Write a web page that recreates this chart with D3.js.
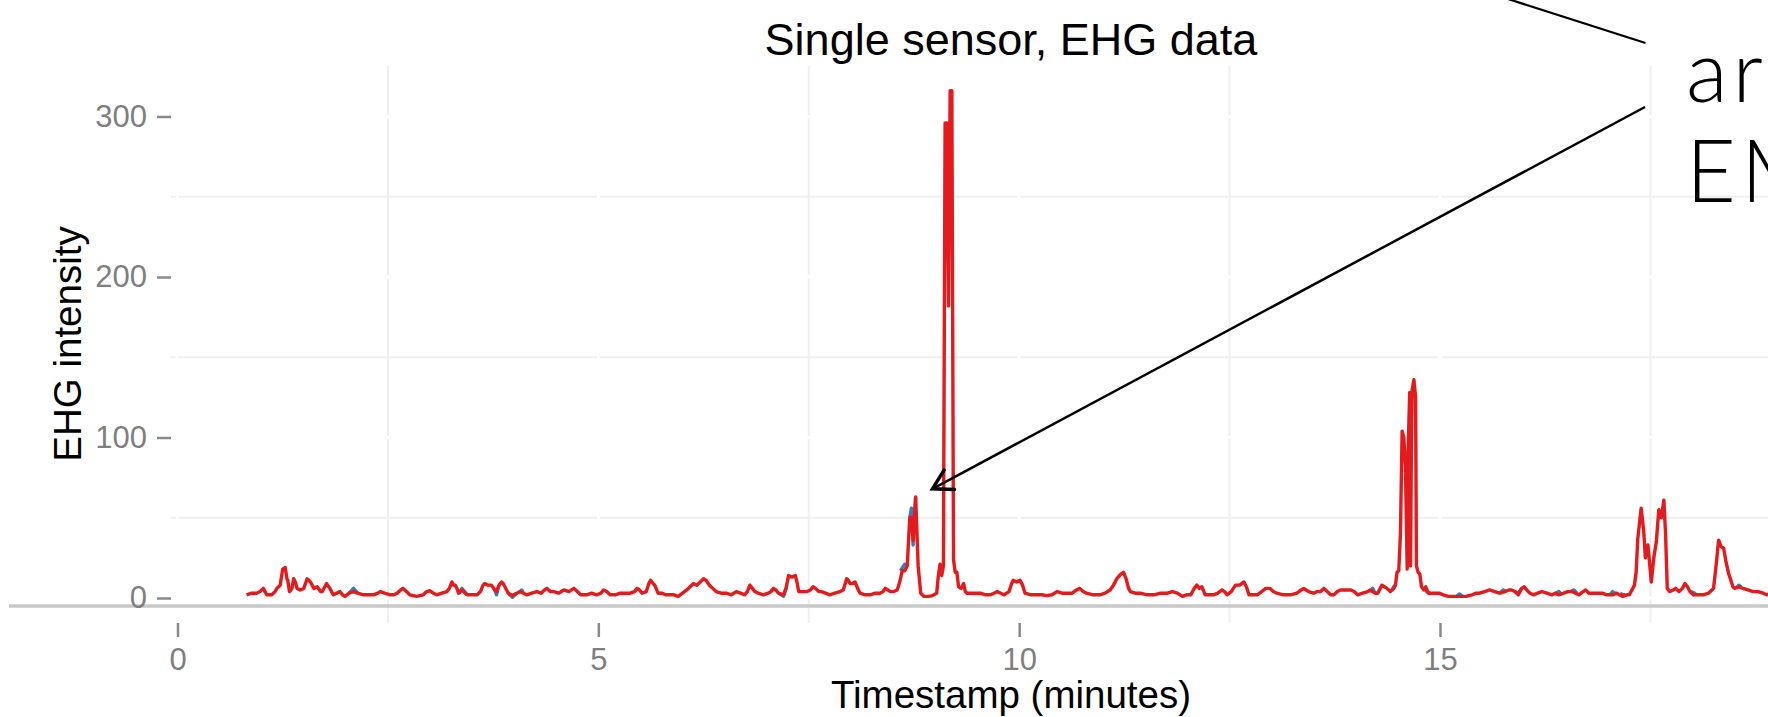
<!DOCTYPE html>
<html>
<head>
<meta charset="utf-8">
<script src="https://cdn.jsdelivr.net/npm/d3@7"></script>
<style>
  html, body { margin: 0; padding: 0; background: #ffffff; }
  svg { display: block; }
</style>
</head>
<body>
<svg id="chart" width="1768" height="717"></svg>
<script>
// ---------------- DATA ----------------
const chartTitle = "Single sensor, EHG data";
const xTitle = "Timestamp (minutes)";
const yTitle = "EHG intensity";
const calloutLines = ["are", "EMG"];

const xTicks = [0, 5, 10, 15];
const xTickLabels = ["0", "5", "10", "15"];
const xMinor = [2.5, 7.5, 12.5, 17.5];
const yTicks = [0, 100, 200, 300];
const yTickLabels = ["0", "100", "200", "300"];
const yMinor = [50, 150, 250];

// red series (filtered signal), minutes
const redTime = [
0.82,0.88,0.94,0.98,1.02,1.06,1.12,1.16,1.18,1.22,1.25,1.28,1.30,1.31,1.33,1.36,1.38,1.40,1.42,1.46,
1.50,1.54,1.56,1.58,1.62,1.66,1.70,1.72,1.75,1.77,1.81,1.85,1.89,1.93,1.96,1.99,2.04,2.09,2.14,2.21,
2.27,2.33,2.38,2.41,2.46,2.53,2.57,2.61,2.65,2.68,2.72,2.76,2.84,2.92,2.96,3.00,3.04,3.08,3.14,3.20,
3.23,3.26,3.28,3.30,3.32,3.34,3.38,3.44,3.50,3.56,3.60,3.63,3.65,3.69,3.73,3.77,3.79,3.82,3.85,3.87,
3.89,3.93,3.98,4.03,4.07,4.11,4.15,4.21,4.27,4.32,4.36,4.39,4.43,4.47,4.53,4.59,4.65,4.71,4.75,4.79,
4.86,4.92,4.98,5.03,5.06,5.10,5.14,5.20,5.26,5.32,5.38,5.43,5.46,5.49,5.52,5.57,5.60,5.62,5.65,5.67,
5.71,5.76,5.80,5.85,5.90,5.95,6.00,6.05,6.09,6.13,6.17,6.21,6.25,6.28,6.32,6.36,6.40,6.46,6.52,6.58,
6.64,6.69,6.74,6.77,6.80,6.83,6.86,6.90,6.96,7.02,7.05,7.08,7.11,7.14,7.20,7.23,7.26,7.30,7.34,7.36,
7.38,7.43,7.48,7.52,7.55,7.58,7.62,7.65,7.70,7.75,7.81,7.87,7.91,7.95,7.97,7.99,8.02,8.05,8.08,8.11,
8.17,8.23,8.29,8.35,8.38,8.41,8.44,8.47,8.51,8.55,8.57,8.59,8.61,8.64,8.67,8.70,8.72,8.74,8.77,8.80,
8.83,8.87,8.92,8.97,9.02,9.04,9.06,9.08,9.10,9.12,9.14,9.16,9.18,9.20,9.22,9.24,9.26,9.28,9.31,9.34,
9.36,9.38,9.42,9.48,9.54,9.60,9.66,9.70,9.74,9.78,9.82,9.88,9.91,9.93,9.97,10.01,10.04,10.07,10.14,10.21,
10.27,10.33,10.39,10.45,10.51,10.57,10.63,10.68,10.72,10.76,10.80,10.88,10.96,11.02,11.08,11.12,11.16,11.21,11.24,11.27,
11.30,11.32,11.38,11.44,11.52,11.60,11.68,11.76,11.82,11.88,11.94,11.99,12.04,12.08,12.11,12.14,12.17,12.21,12.26,12.31,
12.36,12.41,12.44,12.47,12.52,12.57,12.62,12.67,12.70,12.73,12.78,12.83,12.88,12.93,12.98,13.02,13.06,13.14,13.22,13.30,
13.35,13.38,13.41,13.44,13.50,13.54,13.58,13.62,13.66,13.70,13.74,13.78,13.82,13.88,13.94,13.98,14.02,14.08,14.14,14.17,
14.20,14.23,14.26,14.29,14.31,14.34,14.37,14.41,14.43,14.45,14.47,14.49,14.51,14.53,14.55,14.57,14.59,14.61,14.62,14.64,
14.65,14.66,14.67,14.69,14.71,14.72,14.74,14.76,14.78,14.81,14.83,14.86,14.90,14.95,14.99,15.04,15.10,15.15,15.22,15.31,
15.38,15.43,15.47,15.53,15.59,15.65,15.71,15.77,15.82,15.85,15.89,15.93,15.97,16.00,16.03,16.07,16.11,16.16,16.21,16.27,
16.33,16.37,16.41,16.47,16.52,16.57,16.61,16.65,16.70,16.73,16.77,16.84,16.90,16.93,16.98,17.05,17.10,17.17,17.22,17.25,
17.28,17.31,17.33,17.35,17.39,17.42,17.44,17.47,17.49,17.51,17.54,17.57,17.60,17.63,17.66,17.68,17.70,17.73,17.77,17.80,
17.84,17.88,17.91,17.94,17.97,18.01,18.07,18.13,18.19,18.23,18.25,18.28,18.31,18.34,18.37,18.40,18.43,18.45,18.48,18.50,
18.55,18.60,18.66,18.72,18.78,18.84,18.88,18.93,18.98,19.05,19.12,19.20
];
const redValue = [
2,3,3,4,6,2,2,4,6,8,18,19,12,11,4,6,12,10,6,5,
6,12,11,10,6,7,4,4,7,9,6,2,3,4,2,1,3,4,3,2,
2,2,3,4,3,2,2,3,5,6,4,2,1,2,4,4.5,3,2,3,4,
6,10,8,8,6,3,5,2,2,2,4,8,9,8,8,5,4,8,10,9,
7,3,1.5,3,4,3,2,3,4,3,5,6,4,4,3,5,4,6,4,2,
2,3,2,3,5,4,2,2,3,3,3,4,6,5,3,4,9,11,9,8,
3,3,2,2,2,1,3,5,7,9,8,10,12,11,8,6,4,3,3,2,
4,3,2,4,8,6,4,3,2,3,4,6,5,3,2,6,14,13,14,10,
4,4,4,5,7,6,4,4,3,2,3,4,5,12,11,9,9,10,6,3,
2,2,3,3,4,6,5,4,4,5,8,12,17,17,20,50,50,36,63,20,
3,1,1,1.5,3,14,21,14,20,296,296,182,316,316,24,16,16,7,6,9,
4,3,3,3,3,2,2,3,4,3,2,4,9,11,10,11,8,3,2,2,
2,1.5,2,4,3,3,3,5,6,4,3,2,2,3,5,8,12,15,16,12,
6,4,3,3,2,2,3,3,4,3,1,2,2,6,8,6,7,2,2,2,
3,5,4,2,4,8,8,10,7,2,2,2,4,6,6,4,3,2,2,3,
5,6,5,4,3,4,4,6,4,2,2,4,5,5,5,4,2,3,4,5,
4,3,3,6,8,7,6,4,5,6,8,16,17,40,104,100,81,18,90,128,
20,93,130,136,125,20,16,15,7,5,7,3,3,3,3,2,1,1,1,1,
2,3,3,4,5,4,3,4,5,5,4,2,6,7,5,3,2,3,4,3,
2,3,2,3,4,4,3,2,4,5,3,3,3,3,2,2,3,1,2,2,
5,8,16,37,56,42,25,33,22,10,25,35,55,50,61,40,6,4,5,6,
4,6,9,7,4,2,2,2,3,5,6,20,36,32,31,22,15,12,7,6,
7,6,5,4,4,3,2,3,4,3,2,3
];

// blue series (raw signal): only the stretches where it departs from the red trace
const blueTime = [
[2.04,2.09,2.14],[3.34,3.38,3.44],[3.77,3.79,3.82],[3.93,3.98,4.03],[4.05,4.09,4.11],
[7.14,7.20,7.23],[8.59,8.64,8.67],[8.70,8.72,8.74,8.77],[14.17,14.20,14.23],[14.43,14.45,14.47],
[14.81,14.84,14.88],[15.20,15.23,15.27],[15.71,15.75,15.79],[15.89,15.93,15.97],[16.37,16.41,16.45],
[16.55,16.59,16.63],[17.02,17.05,17.08],[17.14,17.17,17.20],[17.97,18.01,18.05],[18.52,18.55,18.58]
];
const blueValue = [
[3,6,3],[3,6,2],[5,2,8],[3,0.5,3],[3,5,3],
[3,1,6],[17,21,20],[50,56,33,63],[4,6,3],[5,7,8],
[7,4,3],[1,2.5,1],[3,5,4],[4,3,6],[3,4,2],
[4,5,3],[2,4,3],[3,2,2],[4,3.5,2],[6,8,7]
];

// ---------------- DRAWING ----------------
const W = 1768, H = 717;
const panel = { left: 171, top: 66, bottom: 623, right: 1862 };

const x = d3.scaleLinear().domain([0, 15]).range([177.5, 1440]);
const y = d3.scaleLinear().domain([0, 300]).range([598, 116.5]);

const svg = d3.select("#chart");
svg.append("rect").attr("width", W).attr("height", H).attr("fill", "#ffffff");

const font = "'Liberation Sans', Arial, Helvetica, sans-serif";
const grid = svg.append("g");

// minor grid (light grey)
grid.selectAll("line.ymin").data(yMinor).enter().append("line")
  .attr("x1", panel.left).attr("x2", panel.right)
  .attr("y1", d => y(d)).attr("y2", d => y(d))
  .attr("stroke", "#efefef").attr("stroke-width", 2);
grid.selectAll("line.xmin").data(xMinor).enter().append("line")
  .attr("y1", panel.top).attr("y2", panel.bottom)
  .attr("x1", d => x(d)).attr("x2", d => x(d))
  .attr("stroke", "#efefef").attr("stroke-width", 2);
// major grid (white, only visible where it crosses the minor grid)
grid.selectAll("line.ymaj").data(yTicks).enter().append("line")
  .attr("x1", panel.left).attr("x2", panel.right)
  .attr("y1", d => y(d)).attr("y2", d => y(d))
  .attr("stroke", "#ffffff").attr("stroke-width", 3);
grid.selectAll("line.xmaj").data(xTicks).enter().append("line")
  .attr("y1", panel.top).attr("y2", panel.bottom)
  .attr("x1", d => x(d)).attr("x2", d => x(d))
  .attr("stroke", "#ffffff").attr("stroke-width", 3);

// baseline rule (grey)
svg.append("line")
  .attr("x1", 9).attr("x2", W)
  .attr("y1", y(-5)).attr("y2", y(-5))
  .attr("stroke", "#c9c9c9").attr("stroke-width", 3.5);

// axes
const yAxis = d3.axisLeft(y).tickValues(yTicks)
  .tickFormat((d, i) => yTickLabels[i]).tickSize(14).tickPadding(10);
const gy = svg.append("g").attr("transform", `translate(${panel.left},0)`).call(yAxis);
const xAxis = d3.axisBottom(x).tickValues(xTicks)
  .tickFormat((d, i) => xTickLabels[i]).tickSize(14).tickPadding(11);
const gx = svg.append("g").attr("transform", `translate(0,${panel.bottom})`).call(xAxis);
[gx, gy].forEach(g => {
  g.select(".domain").remove();
  g.selectAll(".tick line").attr("stroke", "#8a8a8a").attr("stroke-width", 2.5);
  g.selectAll(".tick text").attr("fill", "#7f7f7f")
    .style("font-family", font).style("font-size", "31px");
});

// lines
const line = d3.line().x(d => x(d[0])).y(d => y(d[1]));
blueTime.forEach((seg, i) => {
  const pts = seg.map((t, j) => [t, blueValue[i][j]]);
  svg.append("path").attr("d", line(pts))
    .attr("fill", "none").attr("stroke", "#377EB8")
    .attr("stroke-width", 3.4).attr("stroke-linejoin", "round");
});
const redPts = redTime.map((t, i) => [t, redValue[i]]);
svg.append("path").attr("d", line(redPts))
  .attr("fill", "none").attr("stroke", "#E41A1C")
  .attr("stroke-width", 3.4).attr("stroke-linejoin", "round");

// titles
svg.append("text").text(chartTitle)
  .attr("x", 1011).attr("y", 55).attr("text-anchor", "middle")
  .style("font-family", font).style("font-size", "45px").attr("fill", "#000");
svg.append("text").text(xTitle)
  .attr("x", 1011).attr("y", 708).attr("text-anchor", "middle")
  .style("font-family", font).style("font-size", "38.5px").attr("fill", "#000");
svg.append("text").text(yTitle)
  .attr("transform", "translate(81,344) rotate(-90)").attr("text-anchor", "middle")
  .style("font-family", font).style("font-size", "38.5px").attr("fill", "#000");

// callout annotation
const ann = svg.append("g");
const tip = [x(8.97), y(68)];
const tail = [1645, 107];
ann.append("line").attr("x1", tail[0]).attr("y1", tail[1]).attr("x2", tip[0]).attr("y2", tip[1])
  .attr("stroke", "#000").attr("stroke-width", 2.5);
const ang = Math.atan2(tail[1] - tip[1], tail[0] - tip[0]);
const headLen = 22, headAng = 30 * Math.PI / 180;
const p1 = [tip[0] + headLen * Math.cos(ang - headAng), tip[1] + headLen * Math.sin(ang - headAng)];
const p2 = [tip[0] + headLen * Math.cos(ang + headAng), tip[1] + headLen * Math.sin(ang + headAng)];
ann.append("path").attr("d", `M${p1[0]},${p1[1]}L${tip[0]},${tip[1]}L${p2[0]},${p2[1]}`)
  .attr("fill", "none").attr("stroke", "#000").attr("stroke-width", 3.5)
  .attr("stroke-linejoin", "miter").attr("stroke-linecap", "round");
ann.append("line").attr("x1", 1480).attr("y1", -10).attr("x2", 1645.5).attr("y2", 43)
  .attr("stroke", "#000").attr("stroke-width", 2.2);
calloutLines.forEach((s, i) => {
  ann.append("text").text(s)
    .attr("x", 1686).attr("y", 102 + i * 100)
    .style("font-family", "'Lato Light', 'Roboto Light', 'Open Sans Light', Lato, sans-serif")
    .style("font-weight", 300)
    .style("letter-spacing", "5px")
    .style("font-size", "86px").attr("fill", "#000");
});
</script>
</body>
</html>
